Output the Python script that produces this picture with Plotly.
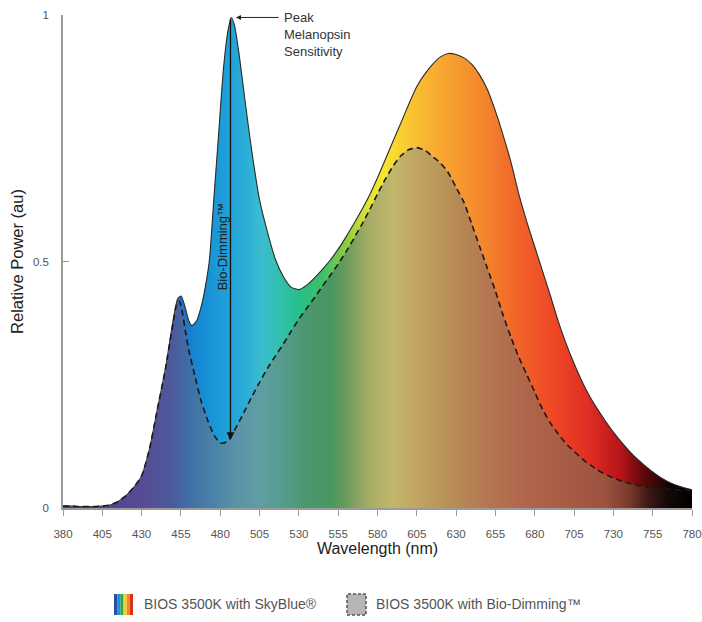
import plotly.graph_objects as go

# ---------------- data ----------------
wl_main = [380, 385, 390, 395, 400, 405, 410, 415, 420, 425, 430, 435, 440, 445, 450, 453, 455, 457,
           460, 462, 465, 468, 470, 473, 476, 479, 482, 485, 487, 489, 492, 496, 500, 505, 510, 515,
           520, 525, 530, 535, 540, 545, 550, 555, 560, 565, 570, 575, 580, 585, 590, 595, 600, 605,
           610, 615, 620, 625, 630, 635, 640, 645, 650, 655, 660, 665, 670, 675, 680, 685, 690, 695,
           700, 705, 710, 715, 720, 725, 730, 735, 740, 745, 750, 755, 760, 765, 770, 775, 780]
skyblue = [0.004, 0.004, 0.003, 0.003, 0.003, 0.004, 0.006, 0.013, 0.025, 0.042, 0.065, 0.12, 0.20, 0.28,
           0.38, 0.425, 0.43, 0.415, 0.38, 0.37, 0.38, 0.41, 0.44, 0.50, 0.63, 0.76, 0.89, 0.97, 0.995,
           0.98, 0.92, 0.82, 0.725, 0.625, 0.56, 0.505, 0.47, 0.448, 0.443, 0.452, 0.467, 0.484, 0.503,
           0.525, 0.55, 0.577, 0.605, 0.635, 0.67, 0.707, 0.745, 0.782, 0.82, 0.855, 0.88, 0.90, 0.915,
           0.922, 0.92, 0.913, 0.9, 0.878, 0.848, 0.805, 0.755, 0.70, 0.635, 0.58, 0.53, 0.48, 0.43,
           0.378, 0.333, 0.293, 0.257, 0.226, 0.20, 0.176, 0.154, 0.134, 0.116, 0.1, 0.086, 0.073, 0.062,
           0.053, 0.046, 0.041, 0.037]

wl_dim = [380, 385, 390, 395, 400, 405, 410, 415, 420, 425, 430, 435, 440, 445, 450, 452, 454, 456,
          458, 460, 464, 468, 472, 476, 480, 484, 488, 492, 496, 500, 505, 510, 515, 520, 525, 530,
          535, 540, 545, 550, 555, 560, 565, 570, 575, 580, 585, 590, 595, 600, 605, 610, 615, 620,
          625, 630, 635, 640, 645, 650, 655, 660, 665, 670, 675, 680, 685, 690, 695, 700, 705, 710,
          715, 720, 725, 730, 735, 740, 745, 750, 755, 760, 765, 770, 775, 780]
biodim = [0.004, 0.004, 0.003, 0.003, 0.003, 0.004, 0.006, 0.013, 0.025, 0.042, 0.065, 0.12, 0.20, 0.28,
          0.375, 0.41, 0.42, 0.395, 0.355, 0.32, 0.266, 0.215, 0.178, 0.148, 0.132, 0.134, 0.152,
          0.175, 0.20, 0.225, 0.255, 0.283, 0.308, 0.332, 0.358, 0.383, 0.405, 0.427, 0.45, 0.472,
          0.495, 0.52, 0.547, 0.575, 0.605, 0.637, 0.667, 0.694, 0.715, 0.727, 0.731, 0.726, 0.713,
          0.70, 0.68, 0.65, 0.62, 0.575, 0.53, 0.485, 0.44, 0.39, 0.345, 0.305, 0.27, 0.235, 0.20,
          0.172, 0.15, 0.13, 0.115, 0.10, 0.088, 0.077, 0.068, 0.061, 0.055, 0.05, 0.046, 0.043,
          0.041, 0.039, 0.038, 0.037, 0.036, 0.035]

x_ticks = [380, 405, 430, 455, 480, 505, 530, 555, 580, 605, 630, 655, 680, 705, 730, 755, 780]
y_ticks = [0, 0.5, 1]
y_tick_text = ["0", "0.5", "1"]

legend_names = ["BIOS 3500K with SkyBlue®", "BIOS 3500K with Bio-Dimming™"]
legend_stripes = ["#2b4fa0", "#1f8fd0", "#2aa35a", "#f1d02c", "#f08a24", "#d8321f"]

peak_label = "Peak<br>Melanopsin<br>Sensitivity"
dim_label = "Bio-Dimming™"
peak_wl = 488
dim_floor = 0.138

# ---------------- colour scales (by wavelength) ----------------
def cs(pairs):
    return [[(w - 380) / 400.0, c] for w, c in pairs]

vivid = cs([(380, "#3b2a6e"), (420, "#4a3a8e"), (440, "#4b4a9e"), (455, "#2a6cbc"), (465, "#1488d4"),
            (480, "#1c9cd8"), (495, "#28acd6"), (505, "#3bbbd3"), (515, "#35c0b5"), (530, "#26bf8a"),
            (545, "#3fbf6a"), (560, "#8ccc3e"), (575, "#e8e635"), (585, "#f7e431"), (600, "#f9c633"),
            (620, "#f8a730"), (645, "#f48a2c"), (665, "#f26a2a"), (690, "#ef4a27"), (715, "#e02c22"),
            (735, "#b5141a"), (750, "#5a0808"), (765, "#140404"), (780, "#000000")])

muted = cs([(380, "#4a3f82"), (430, "#574c93"), (450, "#4b5a9c"), (460, "#3e6fa6"), (475, "#4a82a8"),
            (490, "#5a92a6"), (505, "#5f9ea3"), (520, "#559c8c"), (535, "#4a9770"), (550, "#4a9660"),
            (560, "#6a9a5c"), (575, "#a8ad66"), (590, "#c2b66c"), (605, "#c1a662"), (625, "#b99056"),
            (650, "#b47652"), (675, "#b0654a"), (700, "#a95c45"), (725, "#9c5240"), (740, "#7a3a2c"),
            (752, "#3e1a14"), (765, "#120806"), (780, "#000000")])

FONT = "Liberation Sans, Arial, sans-serif"

fig = go.Figure()
fig.add_trace(go.Scatter(
    x=wl_main, y=skyblue, mode="lines", name=legend_names[0],
    line=dict(color="#2a2a2a", width=1.1, shape="spline", smoothing=0.6),
    fill="tozeroy", fillgradient=dict(type="horizontal", colorscale=vivid, start=380, stop=780),
    showlegend=False, hoverinfo="skip"))
fig.add_trace(go.Scatter(
    x=wl_dim, y=biodim, mode="lines", name=legend_names[1],
    line=dict(color="#1a1a1a", width=1.6, dash="6px,4px", shape="spline", smoothing=0.6),
    fill="tozeroy", fillgradient=dict(type="horizontal", colorscale=muted, start=380, stop=780),
    showlegend=False, hoverinfo="skip"))

# Peak annotation arrow + label
fig.add_annotation(x=peak_wl + 2, y=0.995, ax=peak_wl + 30, ay=0.995, xref="x", yref="y", axref="x", ayref="y",
                   text="", showarrow=True, arrowhead=2, arrowsize=1, arrowwidth=1, arrowcolor="#222")
fig.add_annotation(x=peak_wl + 31, y=0.995, xref="x", yref="y", text=peak_label, showarrow=False,
                   xanchor="left", yanchor="top", yshift=9, align="left",
                   font=dict(family=FONT, size=13, color="#333"))
# Bio-dimming arrow
fig.add_annotation(x=peak_wl - 1.5, y=dim_floor, ax=peak_wl - 1.5, ay=0.995, xref="x", yref="y", axref="x", ayref="y",
                   text="", showarrow=True, arrowhead=2, arrowsize=1.2, arrowwidth=1.3, arrowcolor="#111")
fig.add_annotation(x=peak_wl - 6.5, y=0.53, xref="x", yref="y", text=dim_label, textangle=-90, showarrow=False,
                   xanchor="center", yanchor="middle", font=dict(family=FONT, size=13, color="#222"))

# Legend (custom icons)
def px2paper(px, py):
    return (px - 63) / 629.0, (508 - py) / 493.0

x0 = 114
sw = 19 / len(legend_stripes)
for i, c in enumerate(legend_stripes):
    a, b = px2paper(x0 + i * sw, 594)
    a2, b2 = px2paper(x0 + (i + 1) * sw, 615)
    fig.add_shape(type="rect", xref="paper", yref="paper", x0=a, x1=a2, y0=b2, y1=b,
                  fillcolor=c, line=dict(width=0), layer="above")
a, b = px2paper(347, 594)
a2, b2 = px2paper(366, 615)
fig.add_shape(type="rect", xref="paper", yref="paper", x0=a, x1=a2, y0=b2, y1=b,
              fillcolor="#b5b5b5", line=dict(color="#555", width=1.5, dash="3px,2px"), layer="above")
lx, ly = px2paper(142, 604)
fig.add_annotation(x=lx, y=ly, xref="paper", yref="paper", text=legend_names[0], showarrow=False,
                   xanchor="left", yanchor="middle", font=dict(family=FONT, size=14, color="#555"))
lx, ly = px2paper(374, 604)
fig.add_annotation(x=lx, y=ly, xref="paper", yref="paper", text=legend_names[1], showarrow=False,
                   xanchor="left", yanchor="middle", font=dict(family=FONT, size=14, color="#555"))

fig.update_layout(
    width=702, height=622, margin=dict(l=63, r=10, t=15, b=114, autoexpand=False),
    paper_bgcolor="white", plot_bgcolor="white", font=dict(family=FONT),
    xaxis=dict(range=[380, 780], tickvals=x_ticks, ticktext=[str(v) for v in x_ticks], automargin=False,
               showline=True, linecolor="#9a9a9a", linewidth=1.5, ticks="outside", ticklen=6,
               tickcolor="#9a9a9a", tickwidth=1.2, showgrid=False, zeroline=False,
               tickfont=dict(family=FONT, size=11.5, color="#555"), ticklabelstandoff=8,
               title=dict(text="Wavelength (nm)", font=dict(family=FONT, size=16, color="#222"), standoff=4)),
    yaxis=dict(range=[0, 1], tickvals=y_ticks, ticktext=y_tick_text, automargin=False,
               showline=True, linecolor="#9a9a9a", linewidth=1.5, ticks="inside", ticklen=6,
               tickcolor="#9a9a9a", tickwidth=1.2, showgrid=False, zeroline=False,
               tickfont=dict(family=FONT, size=11.5, color="#555"), ticklabelstandoff=10,
               title=dict(text="Relative Power (au)", font=dict(family=FONT, size=16.5, color="#222"), standoff=5)),
)

fig.write_html("out.html", config={"displayModeBar": False},
               post_script="document.body.style.margin='0';document.body.style.overflow='hidden';")
